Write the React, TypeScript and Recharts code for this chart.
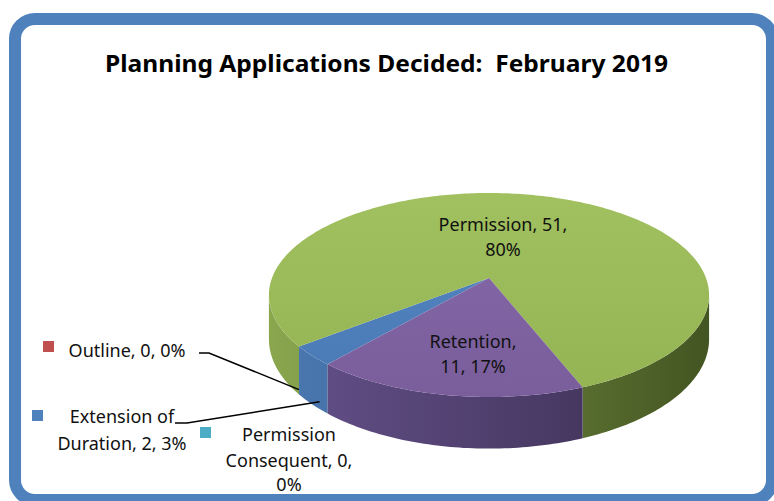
import React from 'react';
import { PieChart, Pie } from 'recharts';

// ---- data ----
const categories = ['Extension of Duration', 'Outline', 'Permission', 'Retention', 'Permission Consequent'];
const counts = [2, 0, 51, 11, 0];
const seriesColors = ['#4F81BD', '#C0504D', '#9BBB59', '#8064A2', '#4BACC6'];
const sideColors: string[][] = [
  ['#4A78B0', '#33598A'],
  ['#A84542', '#8A3836'],
  ['#8AA74E', '#435522'],
  ['#65518B', '#3A2D50'],
  ['#3F97AE', '#2F7688'],
];
const topColors: string[][] = [
  ['#5487C4', '#4A7AB5'],
  ['#C85550', '#B04A46'],
  ['#A2C160', '#94B352'],
  ['#8769A9', '#7A5E9C'],
  ['#52B3CC', '#45A2BA'],
];
const titleText = 'Planning Applications Decided:  February 2019';

const total = counts.reduce((a, b) => a + b, 0);
const pieData = categories.map((name, i) => ({
  name,
  value: counts[i],
  fill: seriesColors[i],
  pct: Math.round((counts[i] / total) * 100),
}));

// ---- layout ----
const W = 774;
const H = 501;
const CX = 484;
const CY = 273;
const R = 217;
const RY_RATIO = 0.457;
const PERSP = 0.1667;
const DEPTH = 43;
const START = -130.5;
const FONT = "'Noto Sans', 'Open Sans', sans-serif";

type LabelLayout = {
  lines: (d: any) => string[];
  x: number;
  baselines: number[];
  square?: [number, number];
  leader?: { from: [number, number][]; frac: number; depthFrac: number };
};

const labelLayout: Record<string, LabelLayout> = {
  'Extension of Duration': {
    lines: (d) => ['Extension of', `Duration, ${d.value}, ${d.pct}%`],
    x: 122,
    baselines: [423, 450],
    square: [32, 410],
    leader: { from: [[175, 423], [187, 423]], frac: 0.25, depthFrac: 0.85 },
  },
  Outline: {
    lines: (d) => [`Outline, ${d.value}, ${d.pct}%`],
    x: 127,
    baselines: [357],
    square: [43, 341],
    leader: { from: [[199, 353], [209, 353]], frac: 0, depthFrac: 0.9 },
  },
  Permission: {
    lines: (d) => [`Permission, ${d.value},`, `${d.pct}%`],
    x: 503,
    baselines: [231, 256],
  },
  Retention: {
    lines: (d) => ['Retention,', `${d.value}, ${d.pct}%`],
    x: 473,
    baselines: [348, 373],
  },
  'Permission Consequent': {
    lines: (d) => ['Permission', `Consequent, ${d.value},`, `${d.pct}%`],
    x: 289,
    baselines: [441, 467, 491],
    square: [200, 427],
  },
};

// perspective projection of a point on the pie rim (screen angle, clockwise from 3 o'clock)
function proj(cx: number, cy: number, r: number, deg: number, drop = 0): [number, number] {
  const t = (deg * Math.PI) / 180;
  const u = Math.cos(t);
  const v = Math.sin(t);
  const s = 1 / (1 - PERSP * v);
  return [cx + r * u * s, cy + r * RY_RATIO * v * s + drop * s];
}

function arcPoints(cx: number, cy: number, r: number, a: number, b: number, drop = 0): [number, number][] {
  const n = Math.max(2, Math.ceil(Math.abs(b - a)));
  const out: [number, number][] = [];
  for (let i = 0; i <= n; i++) out.push(proj(cx, cy, r, a + ((b - a) * i) / n, drop));
  return out;
}

const toPath = (pts: [number, number][]) => pts.map((p, i) => `${i ? 'L' : 'M'}${p[0].toFixed(2)},${p[1].toFixed(2)}`).join(' ');

function Slice3D(props: any) {
  const { cx, cy, outerRadius, startAngle, endAngle, index } = props;
  const a1 = -startAngle;
  const a2 = -endAngle;
  if (Math.abs(a2 - a1) < 1e-6) return <g />;
  const r = outerRadius;
  const sil = (Math.asin(PERSP) * 180) / Math.PI;
  const sides: [number, number][] = [];
  for (const base of [-360, 0, 360]) {
    const s = Math.max(a1, base + sil);
    const e = Math.min(a2, base + 180 - sil);
    if (e > s) sides.push([s, e]);
  }
  const topPts = arcPoints(cx, cy, r, a1, a2);
  const topPath = toPath([[cx, cy], ...topPts]) + ' Z';
  const sg = `side-grad-${index}`;
  const tg = `top-grad-${index}`;
  const half = r * 1.015;
  return (
    <g>
      <defs>
        <linearGradient id={sg} gradientUnits="userSpaceOnUse" x1={cx - half} y1={0} x2={cx + half} y2={0}>
          <stop offset="0%" stopColor={sideColors[index][0]} />
          <stop offset="100%" stopColor={sideColors[index][1]} />
        </linearGradient>
        <linearGradient id={tg} gradientUnits="userSpaceOnUse" x1={0} y1={cy - r * RY_RATIO} x2={0} y2={cy + r * RY_RATIO * 1.2}>
          <stop offset="0%" stopColor={topColors[index][0]} />
          <stop offset="100%" stopColor={topColors[index][1]} />
        </linearGradient>
      </defs>
      {sides.map(([s, e], k) => {
        const upper = arcPoints(cx, cy, r, s, e);
        const lower = arcPoints(cx, cy, r, e, s, DEPTH);
        return <path key={k} d={toPath([...upper, ...lower]) + ' Z'} fill={`url(#${sg})`} stroke="none" />;
      })}
      <path d={topPath} fill={`url(#${tg})`} stroke="none" />
    </g>
  );
}

function renderLabel(props: any) {
  const { index, cx, cy, outerRadius, startAngle, endAngle, midAngle } = props;
  const d = pieData[index];
  const lay = labelLayout[d.name];
  if (!lay) return null;
  const lines = lay.lines(d);
  let leader: React.ReactNode = null;
  if (lay.leader) {
    const s = startAngle !== undefined ? -startAngle : -midAngle;
    const e = endAngle !== undefined ? -endAngle : -midAngle;
    const ang = s + (e - s) * lay.leader.frac;
    const end = proj(cx, cy, outerRadius, ang, DEPTH * lay.leader.depthFrac);
    const pts = [...lay.leader.from, end].map((q) => `${q[0]},${q[1]}`).join(' ');
    leader = <polyline points={pts} fill="none" stroke="#000" strokeWidth={1.5} />;
  }
  return (
    <g key={`lbl-${index}`}>
      {leader}
      {lay.square && <rect x={lay.square[0]} y={lay.square[1]} width={11} height={11} fill={d.fill} />}
      {lines.map((ln, k) => (
        <text key={k} x={lay.x} y={lay.baselines[k]} textAnchor="middle" fontFamily={FONT} fontSize={18} fill="#111">
          {ln}
        </text>
      ))}
    </g>
  );
}

export default function App() {
  return (
    <div style={{ position: 'absolute', left: 0, top: 0, width: W, height: H, overflow: 'hidden', background: '#fff' }}>
      <div
        style={{
          position: 'absolute',
          left: 9,
          top: 13,
          width: 778 - 9,
          height: 506 - 13,
          border: '12px solid #4F81BD',
          borderRadius: 26,
          boxSizing: 'border-box',
          background: '#fff',
        }}
      />
      <svg style={{ position: 'absolute', left: 0, top: 0 }} width={W} height={H}>
        <text
          x={105}
          y={72}
          fontFamily={FONT}
          fontWeight="bold"
          fontSize={23}
          textLength={563}
          lengthAdjust="spacingAndGlyphs"
          fill="#000"
          xmlSpace="preserve"
          style={{ whiteSpace: 'pre' }}
        >
          {titleText}
        </text>
      </svg>
      <div style={{ position: 'absolute', left: 0, top: 0 }}>
        <PieChart width={W} height={H}>
          <Pie
            data={pieData}
            dataKey="value"
            nameKey="name"
            cx={CX}
            cy={CY}
            outerRadius={R}
            startAngle={START}
            endAngle={START - 360}
            stroke="none"
            shape={Slice3D}
            label={renderLabel}
            labelLine={false}
            isAnimationActive={false}
          />
        </PieChart>
      </div>
    </div>
  );
}
